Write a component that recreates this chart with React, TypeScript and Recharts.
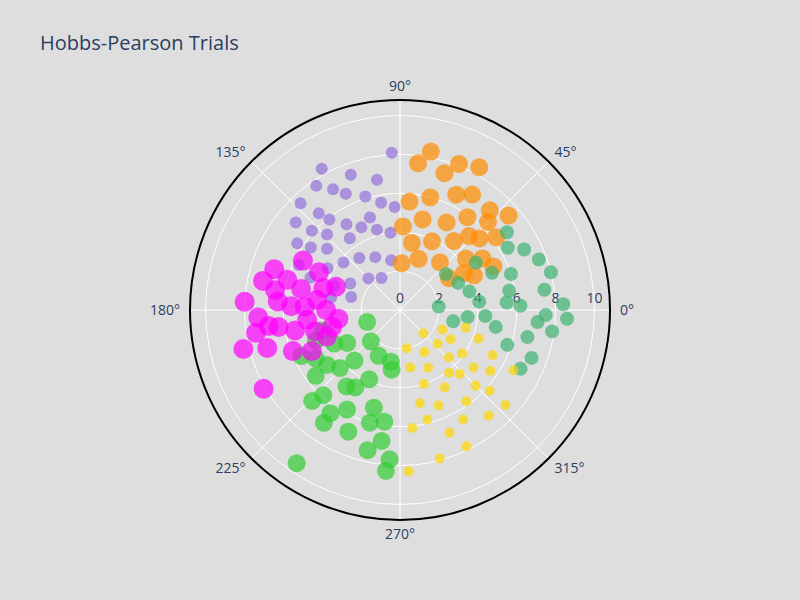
import React from "react";
import { ScatterChart, Scatter, XAxis, YAxis } from "recharts";

// [r, theta(deg)]
const purple = [[8.1,93],[8.3,119],[7.4,110],[7.7,124],[7.1,119],[6.6,115],[6.1,107],[5.6,100],[5.3,93],[6.5,130],[5.9,128],[5.2,122],[4.7,115],[4.3,106],[4.9,140],[5.6,145],[6.3,147],[5.7,156],[4.9,160],[4.3,150],[3.8,140],[3.4,128],[3.0,115],[2.6,100],[3.6,160],[2.9,152],[2.3,135],[1.9,120],[7.0,140],[6.1,138],[4.0,97],[5.0,108],[6.8,100],[3.6,170],[2.6,165],[7.5,133],[5.4,134],[4.5,125]];
const orange = [[8.3,79],[8.1,68],[8.4,61],[7.6,83],[7.4,72],[7.0,58],[6.9,48],[6.6,64],[6.0,75],[5.6,85],[5.9,54],[5.5,42],[5.1,62],[4.8,76],[4.3,88],[4.5,52],[4.3,38],[3.9,65],[3.5,80],[3.2,50],[3.8,30],[5.0,32],[6.2,37],[7.4,41],[4.2,25],[5.3,25],[2.8,70],[2.4,88],[3.0,33],[6.4,45],[5.2,47]];
const seagreen = [[8.4,2],[7.5,8],[8.0,14],[7.6,20],[7.1,26],[6.8,36],[6.4,30],[6.0,18],[5.7,10],[6.2,2],[7.1,-5],[7.9,-8],[6.7,-12],[5.8,-18],[7.2,-20],[5.0,-10],[4.4,-4],[4.1,6],[3.7,15],[3.3,25],[3.0,38],[2.8,-12],[2.0,5],[3.5,-6],[5.1,22],[4.6,32],[8.6,-3],[7.5,-2],[5.5,4],[6.9,-26]];
const gold = [[8.3,273],[7.9,285],[7.8,296],[6.5,300],[7.1,310],[6.2,318],[5.6,326],[5.3,334],[4.3,340],[3.5,345],[3.0,330],[2.6,318],[3.5,316],[4.1,308],[4.6,300],[5.3,292],[5.8,284],[4.9,282],[4.0,288],[3.3,296],[2.5,300],[2.0,280],[3.0,280],[6.1,276],[6.8,292],[5.8,306],[4.8,322],[3.9,325],[2.4,335],[1.7,315],[4.5,313],[5.5,315],[6.6,332],[7.3,318]];
const lime = [[9.5,236],[8.3,265],[7.7,266],[7.4,257],[6.8,247],[6.4,236],[5.9,228],[5.5,218],[5.0,210],[4.6,200],[4.1,195],[4.3,224],[4.6,240],[5.2,255],[6.0,255],[6.8,262],[5.8,262],[3.9,246],[3.5,228],[3.2,212],[2.6,245],[2.2,227],[3.1,262],[4.8,235],[5.8,242],[7.0,236],[6.5,226],[3.8,207],[4.7,217],[5.6,205],[1.8,200],[2.7,260]];
const magenta = [[8.0,177],[8.3,194],[8.1,210],[7.3,183],[7.1,196],[6.8,162],[6.5,171],[6.3,188],[5.9,201],[5.6,178],[5.2,168],[4.8,186],[4.5,194],[4.3,173],[3.8,180],[3.5,160],[4.0,200],[5.6,153],[4.6,155],[3.2,188],[6.8,187],[5.5,191],[4.9,178],[4.1,164],[7.2,168],[6.0,165],[3.6,194],[5.0,205],[7.5,189],[6.3,176]];

const series = [
  { name: "purple", pts: purple, color: "#9370DB", r: 6 },
  { name: "orange", pts: orange, color: "#FF8C00", r: 9 },
  { name: "seagreen", pts: seagreen, color: "#3CB371", r: 7 },
  { name: "gold", pts: gold, color: "#FFD700", r: 5 },
  { name: "lime", pts: lime, color: "#32CD32", r: 9 },
  { name: "magenta", pts: magenta, color: "#FF00FF", r: 10 },
];

const radialTicks = [0, 2, 4, 6, 8, 10];
const angleTicks = [0, 45, 90, 135, 180, 225, 270, 315];

const CX = 400, CY = 310, R = 210, RMAX = 10.8;
const K = R / RMAX;
const toXY = (p: number[]) => {
  const t = (p[1] * Math.PI) / 180;
  return { x: p[0] * Math.cos(t), y: p[0] * Math.sin(t) };
};

const font = '"Open Sans", sans-serif';

export default function App() {
  return (
    <div style={{ position: "absolute", left: 0, top: 0, width: 800, height: 600, background: "#dedede", fontFamily: font }}>
      <svg width={800} height={600} style={{ position: "absolute", left: 0, top: 0 }}>
        {radialTicks.slice(1).map((t) => (
          <circle key={t} cx={CX} cy={CY} r={t * K} fill="none" stroke="#fff" strokeWidth={1} />
        ))}
        {angleTicks.map((a) => {
          const t = (a * Math.PI) / 180;
          return <line key={a} x1={CX} y1={CY} x2={CX + R * Math.cos(t)} y2={CY - R * Math.sin(t)} stroke="#fff" strokeWidth={1} />;
        })}
        <circle cx={CX} cy={CY} r={R} fill="none" stroke="#000" strokeWidth={2} />
        {angleTicks.map((a) => {
          const t = (a * Math.PI) / 180;
          const x = CX + (R + 14) * Math.cos(t);
          const y = CY - (R + 14) * Math.sin(t);
          const anchor = Math.abs(Math.cos(t)) < 0.1 ? "middle" : Math.cos(t) > 0 ? "start" : "end";
          return (
            <text key={a} x={x} y={y} dy="0.35em" dx={anchor === "start" ? -4 : anchor === "end" ? 4 : 0} textAnchor={anchor} fontSize={14} fill="#2a3f5f">{a}°</text>
          );
        })}
        {radialTicks.map((t) => (
          <text key={t} x={CX + t * K} y={CY - 7} textAnchor="middle" fontSize={14} fill="#2a3f5f">{t}</text>
        ))}
        <text x={40} y={50} fontSize={20} fill="#2a3f5f">Hobbs-Pearson Trials</text>
      </svg>
      <div style={{ position: "absolute", left: 0, top: 0 }}>
        <ScatterChart width={800} height={600} margin={{ left: CX - R, right: 800 - CX - R, top: CY - R, bottom: 600 - CY - R }}>
          <XAxis type="number" dataKey="x" domain={[-RMAX, RMAX]} hide allowDataOverflow />
          <YAxis type="number" dataKey="y" domain={[-RMAX, RMAX]} hide allowDataOverflow width={0} />
          {series.map((s) => (
            <Scatter
              key={s.name}
              data={s.pts.map(toXY)}
              isAnimationActive={false}
              shape={(p: any) => <circle cx={p.cx} cy={p.cy} r={s.r} fill={s.color} fillOpacity={0.7} />}
            />
          ))}
        </ScatterChart>
      </div>
    </div>
  );
}
